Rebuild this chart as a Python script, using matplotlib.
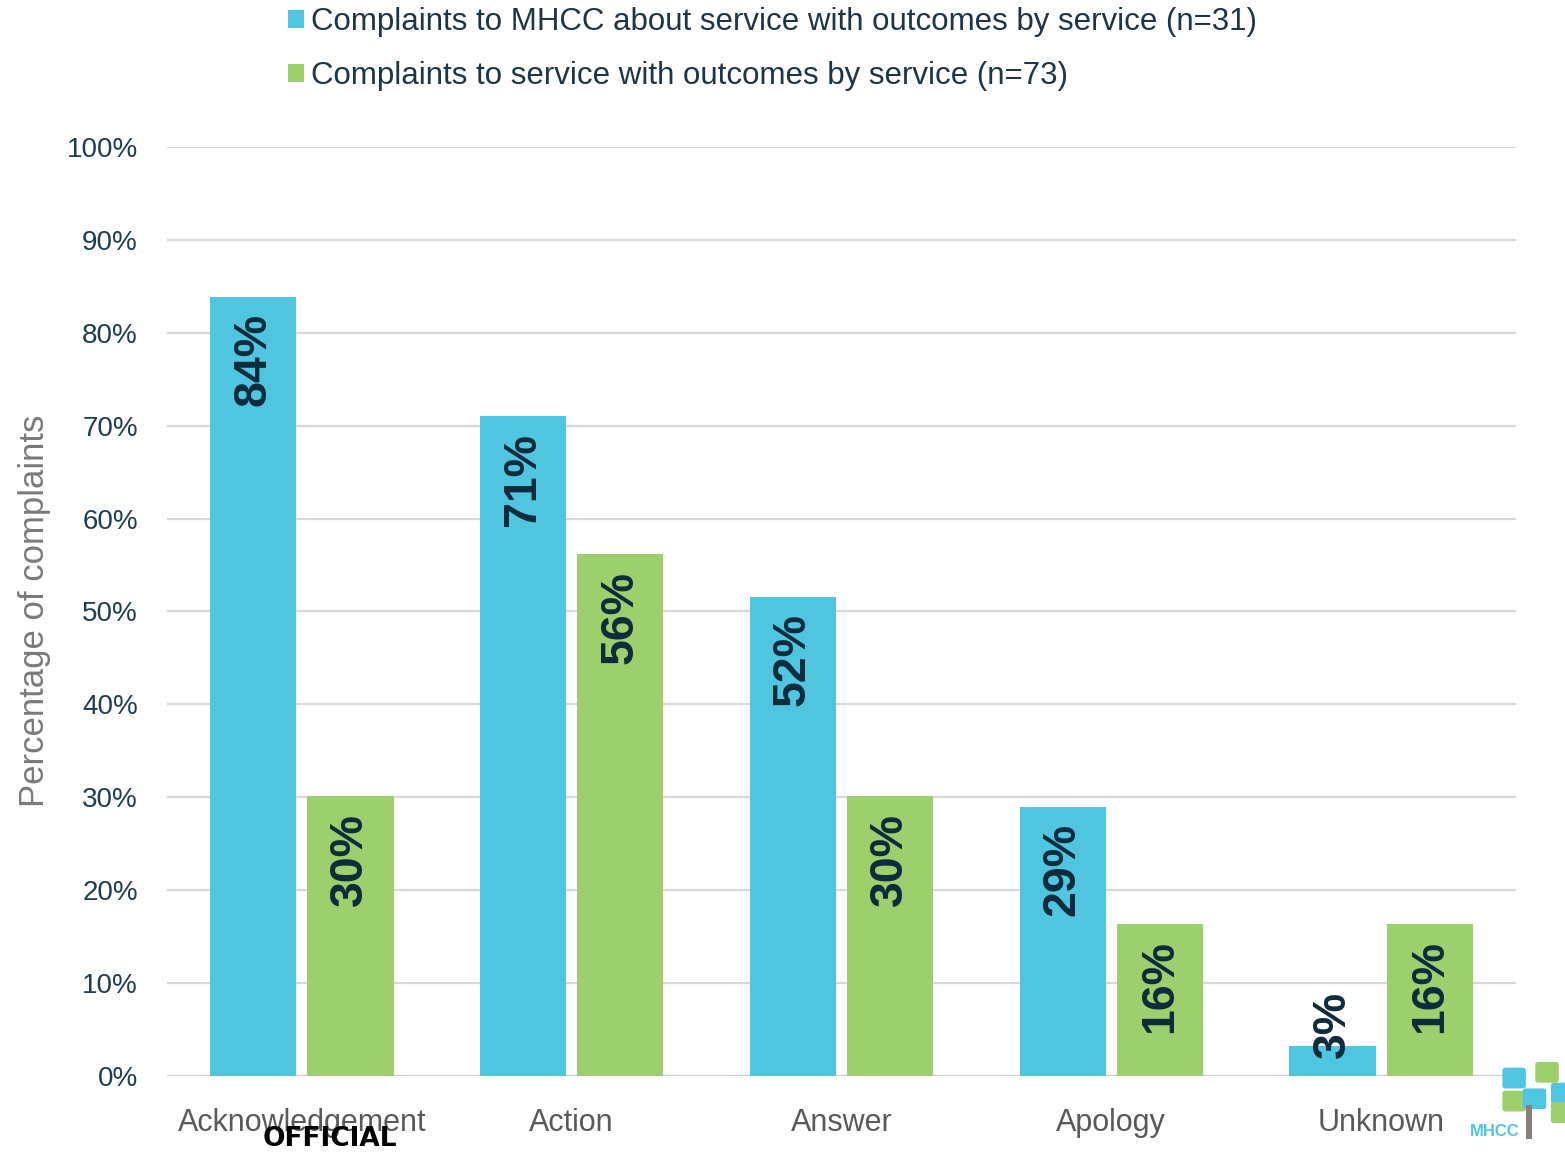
import matplotlib.pyplot as plt
import numpy as np
from matplotlib.patches import FancyBboxPatch

# Data
categories = ["Acknowledgement", "Action", "Answer", "Apology", "Unknown"]
mhcc_values = [83.9, 71.0, 51.6, 29.0, 3.2]
service_values = [30.1, 56.2, 30.1, 16.4, 16.4]
mhcc_labels = ["84%", "71%", "52%", "29%", "3%"]
service_labels = ["30%", "56%", "30%", "16%", "16%"]
series_names = ["Complaints to MHCC about service with outcomes by service (n=31)",
                "Complaints to service with outcomes by service (n=73)"]

blue = "#4FC5DF"
green = "#9ECF6D"
label_color = "#0D2B3B"

plt.rcParams["font.family"] = ["Liberation Sans", "DejaVu Sans"]

fig = plt.figure(figsize=(15.65, 11.53), dpi=100)
ax = fig.add_axes([0.1067, 0.0668, 0.862, 0.8057])

x = np.arange(len(categories))
w = 0.32
off = 0.18
b1 = ax.bar(x - off, mhcc_values, width=w, color=blue, label=series_names[0], zorder=3)
b2 = ax.bar(x + off, service_values, width=w, color=green, label=series_names[1], zorder=3)

# value labels, rotated inside the top of each bar
for bars, labels in [(b1, mhcc_labels), (b2, service_labels)]:
    for rect, lab in zip(bars, labels):
        cx = rect.get_x() + rect.get_width() / 2
        h = rect.get_height()
        if h > 10:
            ax.annotate(lab, (cx, h), xytext=(0, -12), textcoords="offset points",
                        rotation=90, ha="center", va="top", fontsize=33.5,
                        fontweight="bold", color=label_color, zorder=4)
        else:
            ax.annotate(lab, (cx, 1.9), rotation=90, ha="center", va="bottom",
                        fontsize=33.5, fontweight="bold", color=label_color, zorder=4)

ax.set_xlim(-0.5, 4.5)
ax.set_ylim(0, 100)
ax.set_yticks(np.arange(0, 101, 10))
ax.set_yticklabels([f"{v}%" for v in range(0, 101, 10)])
ax.set_xticks(x)
ax.set_xticklabels(categories)
ax.grid(axis="y", color="#D9D9D9", linewidth=1.6, zorder=0)
ax.set_axisbelow(True)
for s in ax.spines.values():
    s.set_visible(False)
ax.axhline(0, color="#D0D0D0", linewidth=2, zorder=2)
ax.tick_params(axis="y", length=0, pad=21, labelsize=20, labelcolor="#1E3E50")
ax.tick_params(axis="x", length=0, pad=23, labelsize=22, labelcolor="#595959")

fig.text(0.022, 0.47, "Percentage of complaints", rotation=90, ha="center", va="center",
         fontsize=25, color="#7A7A7A")

fig.legend(loc="upper left", bbox_to_anchor=(0.166, 1.018), frameon=False, fontsize=22.5,
           handlelength=0.5, handleheight=0.5, handletextpad=0.25, labelspacing=0.75,
           labelcolor="#1E3545")

fig.text(0.211, 0.001, "OFFICIAL", ha="center", va="bottom", fontsize=19,
         fontweight="heavy", family=["DejaVu Sans"], color="black")

# small MHCC logo
fig.text(0.939, 0.012, "MHCC", ha="left", va="bottom", fontsize=12, fontweight="bold",
         color=blue)
boxes = [(0.962, 0.058, blue), (0.983, 0.063, green), (0.993, 0.045, blue),
         (0.962, 0.038, green), (0.975, 0.040, blue), (0.993, 0.028, green)]
for bx, by, c in boxes:
    fig.patches.append(FancyBboxPatch((bx, by), 0.011, 0.014,
                                      boxstyle="round,pad=0.002", transform=fig.transFigure,
                                      facecolor=c, edgecolor="none"))
fig.patches.append(FancyBboxPatch((0.975, 0.012), 0.004, 0.03, boxstyle="square,pad=0",
                                  transform=fig.transFigure, facecolor="#8A7F78",
                                  edgecolor="none"))

fig.savefig("out.png", dpi=100)
